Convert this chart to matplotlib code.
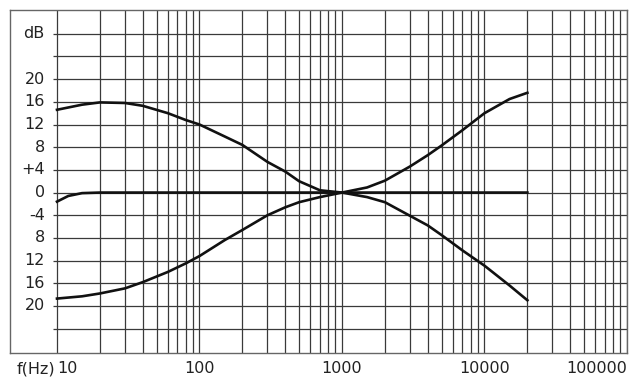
import numpy as np
import matplotlib
matplotlib.use('Agg')
import matplotlib.pyplot as plt
import matplotlib.transforms as mtransforms

freq = [10, 15, 20, 30, 40, 60, 80, 100, 150, 200, 300, 400, 500, 700,
        1000, 1500, 2000, 3000, 4000, 5000, 7000, 10000, 15000, 20000]
bass_up = [14.6, 15.5, 15.9, 15.8, 15.3, 14.0, 12.8, 12.0, 9.9, 8.4, 5.4, 3.7, 2.0, 0.4,
           0.0, -0.8, -1.7, -4.1, -5.8, -7.5, -10.2, -12.9, -16.4, -19.0]
bass_down = [-18.7, -18.3, -17.8, -16.9, -15.8, -14.0, -12.5, -11.2, -8.4, -6.6, -4.0, -2.6, -1.7, -0.8,
             0.0, 0.9, 2.1, 4.6, 6.6, 8.3, 11.0, 14.0, 16.5, 17.6]
flat_freq = [10, 12, 15, 20, 20000]
flat_db = [-1.6, -0.6, -0.1, 0.0, 0.0]

db_grid = [-24, -20, -16, -12, -8, -4, 0, 4, 8, 12, 16, 20, 24, 28]
db_labels = ['', '20', '16', '12', '8', '-4', '0', '+4', '8', '12', '16', '20', '', 'dB']
freq_ticks = [10, 100, 1000, 10000, 100000]
freq_labels = ['10', '100', '1000', '10000', '100000']

fig = plt.figure(figsize=(6.34, 3.84), dpi=100)
ax = fig.add_axes([10 / 634, 31 / 384, 617 / 634, 343 / 384])
ax.set_xscale('log')
ax.set_xlim(4.68, 1e5)
ax.set_ylim(-28.3, 32.2)

grid_col = '#3a3a3a'
vgrid = [m * 10 ** e for e in range(1, 5) for m in range(1, 10)] + [1e5]
ax.vlines(vgrid, -28.3, 32.2, color=grid_col, lw=0.9, zorder=1)
ax.hlines(db_grid, 9.4, 1e5, color=grid_col, lw=0.9, zorder=1)

ax.plot(freq, bass_up, color='#111111', lw=1.9, zorder=3)
ax.plot(freq, bass_down, color='#111111', lw=1.9, zorder=3)
ax.plot(flat_freq, flat_db, color='#111111', lw=1.9, zorder=3)

for d, lab in zip(db_grid, db_labels):
    if lab:
        ax.text(8.2, d, lab, ha='right', va='center', fontsize=11.5, color='#222222')

ax.set_xticks(freq_ticks)
ax.set_xticklabels(freq_labels, fontsize=11.5, color='#222222')
ax.xaxis.set_minor_locator(matplotlib.ticker.NullLocator())
ax.set_yticks([])
ax.tick_params(axis='x', length=0, pad=6)
labels = ax.get_xticklabels()
labels[0].set_ha('left')
labels[-1].set_ha('right')

# f(Hz) sits on the same line as the tick labels
trans = ax.get_xaxis_transform() + mtransforms.ScaledTranslation(0, -6 / 72, fig.dpi_scale_trans)
ax.text(9.7, 0, 'f(Hz)', ha='right', va='top', fontsize=11.5, color='#222222',
        transform=trans)

for s in ax.spines.values():
    s.set_color('#666666')
    s.set_linewidth(1.0)

fig.savefig('out.png', dpi=100)
